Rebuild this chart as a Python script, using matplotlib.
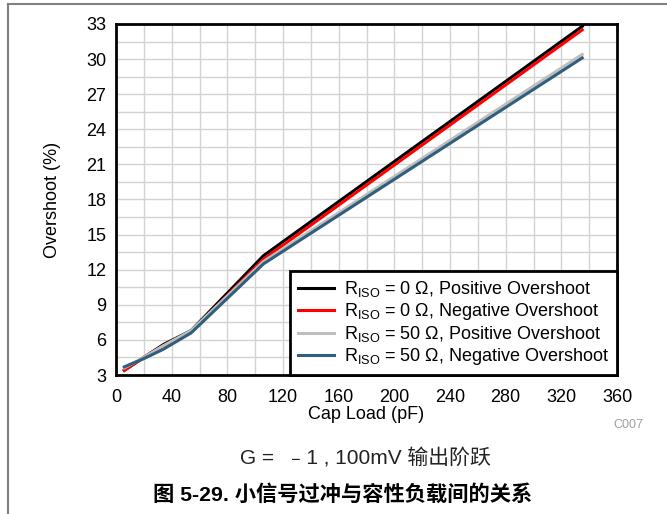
import matplotlib
matplotlib.use('Agg')
import matplotlib.pyplot as plt
from matplotlib.lines import Line2D
import numpy as np

plt.rcParams['font.family'] = ['Liberation Sans', 'Noto Sans CJK SC', 'DejaVu Sans']
plt.rcParams['mathtext.fontset'] = 'custom'
plt.rcParams['mathtext.rm'] = 'Liberation Sans'
plt.rcParams['mathtext.it'] = 'Liberation Sans'

# data
cap_load = [6, 20, 34, 54, 106, 335]
pos_0 = [3.4, 4.5, 5.6, 6.8, 13.2, 32.8]
neg_0 = [3.4, 4.5, 5.5, 6.7, 12.9, 32.5]
pos_50 = [3.6, 4.5, 5.5, 6.8, 12.7, 30.4]
neg_50 = [3.7, 4.4, 5.2, 6.6, 12.5, 30.1]

labels = [r'R$_{\mathrm{ISO}}$ = 0 Ω, Positive Overshoot',
          r'R$_{\mathrm{ISO}}$ = 0 Ω, Negative Overshoot',
          r'R$_{\mathrm{ISO}}$ = 50 Ω, Positive Overshoot',
          r'R$_{\mathrm{ISO}}$ = 50 Ω, Negative Overshoot']
colors = ['#000000', '#FF0000', '#BEBEBE', '#2F5F7C']

x_ticks = np.arange(0, 361, 40)
y_ticks = np.arange(3, 34, 3)

fig = plt.figure(figsize=(6.67, 5.14), dpi=100)
ax = fig.add_axes([116 / 667, 1 - 375 / 514, 501 / 667, 351 / 514])

for series, c, lab in zip([pos_0, neg_0, pos_50, neg_50], colors, labels):
    ax.plot(cap_load, series, color=c, linewidth=2.2, label=lab)

ax.set_xlim(0, 360)
ax.set_ylim(3, 33)
ax.set_xticks(x_ticks)
ax.set_yticks(y_ticks)
ax.set_xticks(np.arange(0, 361, 20), minor=True)
ax.set_yticks(np.arange(3, 33.1, 1.5), minor=True)
ax.grid(True, which='both', color='#D3D3D3', linewidth=1)
ax.set_axisbelow(True)
ax.tick_params(which='both', length=0, labelsize=13)
ax.tick_params(axis='x', pad=10)
ax.tick_params(axis='y', pad=7)
for s in ax.spines.values():
    s.set_linewidth(2)
    s.set_color('black')

ax.set_xlabel('Cap Load (pF)', fontsize=13, labelpad=0)
ax.set_ylabel('Overshoot (%)', fontsize=13, labelpad=18)

leg = ax.legend(loc='lower right', bbox_to_anchor=(1.0, 0.0), fontsize=13,
                frameon=True, fancybox=False, borderaxespad=0, handlelength=2.0,
                handletextpad=0.5, labelspacing=0.1, borderpad=0.45)
leg.get_frame().set_edgecolor('black')
leg.get_frame().set_linewidth(2)
leg.get_frame().set_alpha(1)

fig.text(628 / 667, 1 - 425 / 514, 'C007', fontsize=9, color='#A0A0A0', ha='center', va='center')
fig.text(365 / 667, 1 - 458 / 514, 'G =  ﹣1 , 100mV 输出阶跃', fontsize=15, color='#222222',
         ha='center', va='center')
fig.text(153 / 667, 1 - 494 / 514, '图 5-29. 小信号过冲与容性负载间的关系', fontsize=15.3,
         fontweight='bold', ha='left', va='center')

# page border
fig.add_artist(Line2D([8 / 667, 1], [1 - 4 / 514, 1 - 4 / 514], color='#808080', linewidth=1.5))
fig.add_artist(Line2D([8 / 667, 8 / 667], [0, 1 - 4 / 514], color='#808080', linewidth=1.5))

fig.savefig('out.png', dpi=100)
